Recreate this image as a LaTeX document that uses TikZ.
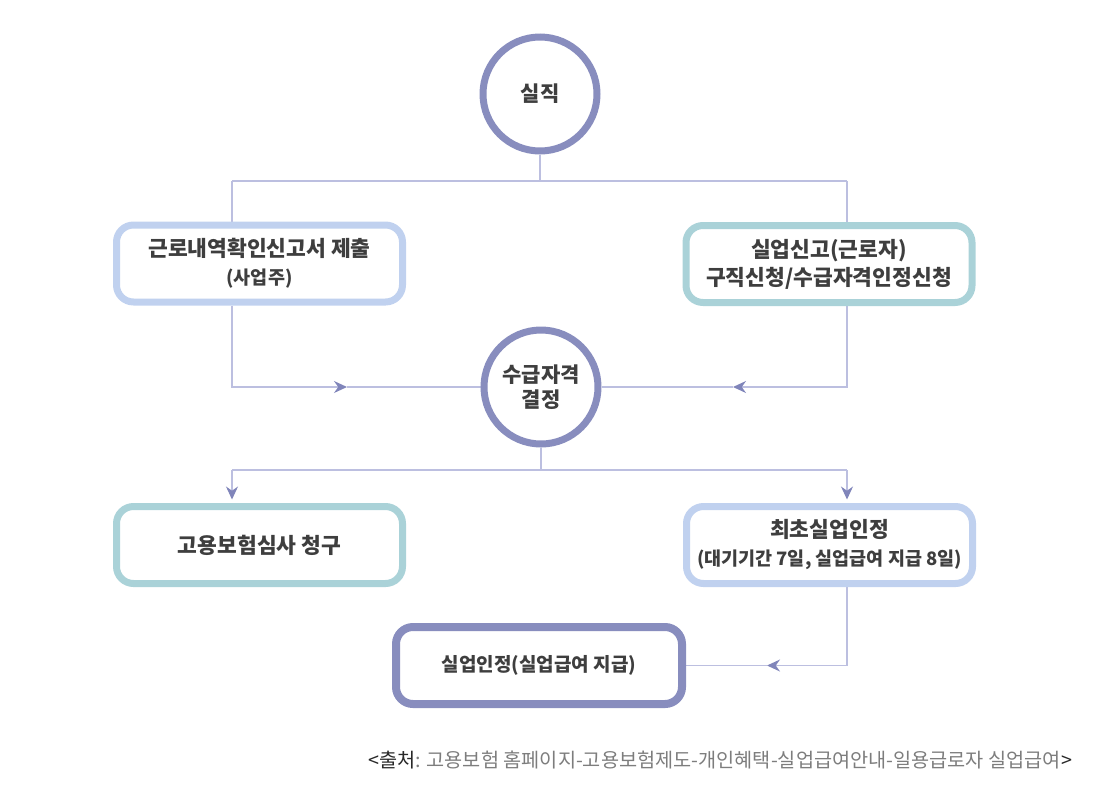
\documentclass[tikz,border=0pt]{standalone}
\usepackage{fontspec}
\setmainfont{Noto Sans CJK KR}
\usetikzlibrary{arrows.meta,backgrounds}
\definecolor{ringc}{RGB}{136,141,190}
\definecolor{blueline}{RGB}{192,209,239}
\definecolor{tealline}{RGB}{170,210,216}
\definecolor{linec}{RGB}{188,191,224}
\definecolor{arrowc}{RGB}{128,133,186}
\definecolor{textc}{RGB}{62,62,62}
\definecolor{capdark}{RGB}{40,40,40}
\definecolor{capgray}{RGB}{125,125,125}
\newcommand\mainline{\fontsize{21.5}{28}\selectfont}
\newcommand\subline{\fontsize{18.5}{20}\selectfont}
\begin{document}
\begin{tikzpicture}%
	[x=1pt, y=-1pt,
	stepcircle/.style={circle, draw=ringc, line width=7pt, fill=white, minimum size=114pt, inner sep=0pt, align=center, text=textc, font=\bfseries\fontsize{21}{25}\selectfont},
	bluebox/.style={rectangle, rounded corners=17pt, draw=blueline, line width=7pt, fill=white, minimum width=286pt, minimum height=77pt, inner sep=0pt, align=center, text=textc, font=\bfseries\mainline},
	tealbox/.style={bluebox, draw=tealline},
	darkbox/.style={bluebox, draw=ringc, line width=8pt, font=\bfseries\fontsize{19}{25}\selectfont},
	conn/.style={draw=linec, line width=1.2pt},
	arr/.style={conn, -{Stealth[length=13pt, width=12pt, color=arrowc]}},
	caption/.style={anchor=west, inner sep=0pt, font=\fontsize{19.7}{22}\selectfont}]
	%
	\useasboundingbox (0,0) rectangle (1098,804);
	%%
	%% Steps
	%%
	\node[stepcircle] (loss) at (540,94) {실직};
	\node[bluebox] (report) at (259.5,263.5) {근로내역확인신고서 제출\\{\subline (사업주)}};
	\node[tealbox] (claim) at (829,264) {실업신고(근로자)\\구직신청/수급자격인정신청};
	\node[stepcircle] (decide) at (541,387) {수급자격\\결정};
	\node[tealbox] (appeal) at (259.5,545) {고용보험심사 청구};
	\node[bluebox] (first) at (829.5,545) {최초실업인정\\{\subline (대기기간 7일, 실업급여 지급 8일)}};
	\node[darkbox] (benefit) at (539,665.5) {실업인정(실업급여 지급)};
	%%
	%% Connectors
	%%
	\begin{scope}[on background layer]
		\coordinate (split1) at (540,181);
		\coordinate (s1l) at (232,181);
		\coordinate (s1r) at (847,181);
		\coordinate (split2) at (541,470);
		\coordinate (s2l) at (232,470);
		\coordinate (s2r) at (847,470);
		\coordinate (tipl) at (347,387);
		\coordinate (tipr) at (733,387);
		\coordinate (tipb) at (767,665.5);

		\draw[conn] (loss.south) -- (split1);
		\draw[conn] (s1l) -- (s1r);
		\draw[conn] (s1l) -- (s1l |- report.north);
		\draw[conn] (s1r) -- (s1r |- claim.north);

		\draw[arr] (s1l |- report.south) |- (tipl);
		\draw[conn] (tipl) -- (decide.west);
		\draw[arr] (s1r |- claim.south) |- (tipr);
		\draw[conn] (tipr) -- (decide.east);

		\draw[conn] (decide.south) -- (split2);
		\draw[conn] (s2l) -- (s2r);
		\draw[arr, shorten >=3.5pt] (s2l) -- (s2l |- appeal.north);
		\draw[arr, shorten >=3.5pt] (s2r) -- (s2r |- first.north);

		\draw[arr] (s2r |- first.south) |- (tipb);
		\draw[conn] (tipb) -- (benefit.east);
	\end{scope}
	%%
	%% Source
	%%
	\node[caption] (source) at (368,760) {\textcolor{capdark}{<출처}\textcolor{capgray}{: 고용보험 홈페이지-고용보험제도-개인혜택-실업급여안내-일용급로자 실업급여}\textcolor{capdark}{>}};
\end{tikzpicture}
\end{document}
